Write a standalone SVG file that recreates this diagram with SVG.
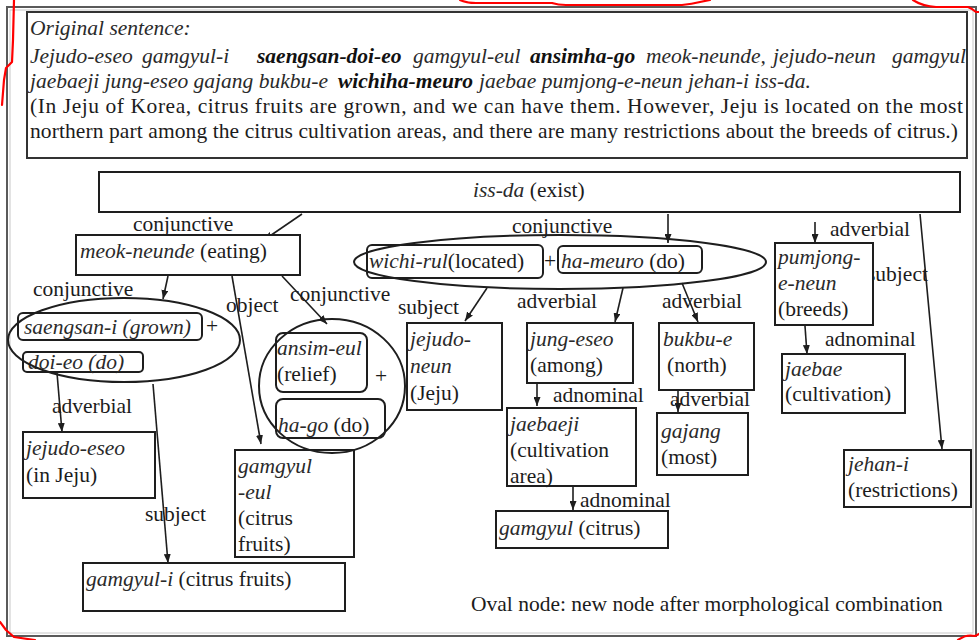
<svg xmlns="http://www.w3.org/2000/svg" width="979" height="640" viewBox="0 0 979 640">
  <style>
    text { font-family: "Liberation Serif", "Times New Roman", serif; font-size: 21.5px; fill: #1c1c1c; }
    .i { font-style: italic; fill: #2a2a2a; }
    .b { font-weight: bold; font-style: italic; fill: #111; }
    .box { fill: #fff; stroke: #1e1e1e; stroke-width: 2; }
    .rbox { fill: none; stroke: #1e1e1e; stroke-width: 2; }
    .oval { fill: none; stroke: #1e1e1e; stroke-width: 2; }
    .edge { stroke: #1e1e1e; stroke-width: 1.6; fill: none; marker-end: url(#arrow); }
    .mark { fill: none; stroke: #ff0000; stroke-width: 2.2; stroke-linejoin: round; stroke-linecap: round; }
  </style>
  <defs>
    <marker id="arrow" viewBox="0 0 9 7" refX="9" refY="3.5" markerWidth="9" markerHeight="7" markerUnits="userSpaceOnUse" orient="auto">
      <path d="M0,0 L9,3.5 L0,7 z" fill="#1e1e1e"/>
    </marker>
  </defs>

  <rect width="979" height="640" fill="#fff"/>

  <!-- outer frame (double line) -->
  <rect x="7" y="7" width="969" height="629" fill="none" stroke="#5a5a5a" stroke-width="2"/>
  <rect x="10" y="10" width="963" height="623" fill="none" stroke="#c8c8c8" stroke-width="1"/>

  <!-- sentence panel -->
  <g id="sentence">
    <rect x="27" y="12" width="940" height="146" fill="#fff" stroke="#333" stroke-width="2"/>
    <text x="30" y="35" class="i">Original sentence:</text>
    <text y="63"><tspan x="30" class="i">Jejudo-eseo</tspan><tspan x="142" class="i">gamgyul-i</tspan><tspan x="257" class="b">saengsan-doi-eo</tspan><tspan x="413" class="i">gamgyul-eul</tspan><tspan x="530" class="b">ansimha-go</tspan><tspan x="646" class="i">meok-neunde,</tspan><tspan x="773" class="i">jejudo-neun</tspan><tspan x="892" class="i">gamgyul</tspan></text>
    <text y="88"><tspan x="30" class="i">jaebaeji jung-eseo gajang bukbu-e</tspan><tspan x="338" class="b">wichiha-meuro</tspan><tspan x="479" class="i">jaebae pumjong-e-neun jehan-i iss-da.</tspan></text>
    <text x="30" y="113" textLength="933" lengthAdjust="spacing">(In Jeju of Korea, citrus fruits are grown, and we can have them. However, Jeju is located on the most</text>
    <text x="30" y="138" textLength="928" lengthAdjust="spacing">northern part among the citrus cultivation areas, and there are many restrictions about the breeds of citrus.)</text>
  </g>

  <!-- connectors and their labels -->
  <g id="connectors">
    <line class="edge" x1="302" y1="214" x2="264" y2="240"/>
    <line class="edge" x1="168" y1="276" x2="163" y2="299"/>
    <line class="edge" x1="57" y1="373" x2="62" y2="432"/>
    <line class="edge" x1="153" y1="384" x2="168" y2="563"/>
    <line class="edge" x1="232" y1="276" x2="261" y2="444"/>
    <line class="edge" x1="282" y1="276" x2="327" y2="324"/>
    <line class="edge" x1="668" y1="214" x2="668" y2="243"/>
    <line class="edge" x1="487" y1="288" x2="465" y2="321"/>
    <line class="edge" x1="623" y1="288" x2="615" y2="322"/>
    <line class="edge" x1="682" y1="283" x2="698" y2="322"/>
    <line class="edge" x1="537" y1="384" x2="537" y2="406"/>
    <line class="edge" x1="573" y1="487" x2="573" y2="510"/>
    <line class="edge" x1="678" y1="391" x2="678" y2="412"/>
    <line class="edge" x1="815" y1="222" x2="815" y2="243"/>
    <line class="edge" x1="805" y1="326" x2="807" y2="354"/>
    <line class="edge" x1="920" y1="214" x2="942" y2="449"/>

    <text x="133" y="231">conjunctive</text>
    <text x="33" y="296">conjunctive</text>
    <text x="52" y="413">adverbial</text>
    <text x="145" y="521">subject</text>
    <text x="226" y="312">object</text>
    <text x="290" y="301">conjunctive</text>
    <text x="512" y="233">conjunctive</text>
    <text x="398" y="314">subject</text>
    <text x="517" y="308">adverbial</text>
    <text x="662" y="308">adverbial</text>
    <text x="553" y="402">adnominal</text>
    <text x="580" y="507">adnominal</text>
    <text x="670" y="406">adverbial</text>
    <text x="830" y="236">adverbial</text>
    <text x="825" y="346">adnominal</text>
    <text x="867" y="281">subject</text>
  </g>

  <!-- nodes -->
  <g id="n-issda">
    <rect class="box" x="99" y="172" width="861" height="40"/>
    <text x="473" y="197"><tspan class="i">iss-da</tspan> (exist)</text>
  </g>

  <g id="n-meokneunde">
    <rect class="box" x="76" y="235" width="224" height="40"/>
    <text x="80" y="258"><tspan class="i">meok-neunde</tspan> (eating)</text>
  </g>

  <g id="n-saengsan-doieo">
    <rect class="rbox" x="18" y="313" width="184" height="27" rx="5"/>
    <text x="24" y="334" class="i">saengsan-i (grown)</text>
    <text x="206" y="333">+</text>
    <rect class="rbox" x="23" y="352" width="120" height="20" rx="4"/>
    <text x="28" y="369" class="i">doi-eo (do)</text>
    <ellipse class="oval" cx="124" cy="340" rx="116" ry="42"/>
  </g>

  <g id="n-jejudoeseo">
    <rect class="box" x="23" y="432" width="132" height="66"/>
    <text x="26" y="455" class="i">jejudo-eseo</text>
    <text x="26" y="482">(in Jeju)</text>
  </g>

  <g id="n-gamgyuli">
    <rect class="box" x="83" y="563" width="262" height="48"/>
    <text x="86" y="586"><tspan class="i">gamgyul-i</tspan> (citrus fruits)</text>
  </g>

  <g id="n-gamgyuleul">
    <rect class="box" x="235" y="450" width="119" height="107"/>
    <text x="238" y="473" class="i">gamgyul</text>
    <text x="238" y="499" class="i">-eul</text>
    <text x="238" y="525">(citrus</text>
    <text x="238" y="551">fruits)</text>
  </g>

  <g id="n-ansim-hago">
    <rect class="rbox" x="276" y="333" width="91" height="59" rx="7"/>
    <text x="277" y="355" class="i">ansim-eul</text>
    <text x="277" y="381">(relief)</text>
    <text x="375" y="383">+</text>
    <rect class="rbox" x="276" y="399" width="109" height="39" rx="7"/>
    <text x="278" y="432"><tspan class="i">ha-go</tspan> (do)</text>
    <ellipse class="oval" cx="332" cy="386" rx="73" ry="67"/>
  </g>

  <g id="n-wichi-hameuro">
    <rect class="rbox" x="367" y="245" width="176" height="33" rx="5"/>
    <text x="369" y="268"><tspan class="i">wichi-rul</tspan>(located)</text>
    <text x="544" y="268">+</text>
    <rect class="rbox" x="558" y="246" width="144" height="27" rx="5"/>
    <text x="561" y="268"><tspan class="i">ha-meuro</tspan> (do)</text>
    <ellipse class="oval" cx="560" cy="262" rx="206" ry="27"/>
  </g>

  <g id="n-jejudoneun">
    <rect class="box" x="407" y="323" width="95" height="87"/>
    <text x="410" y="346" class="i">jejudo-</text>
    <text x="410" y="373" class="i">neun</text>
    <text x="410" y="400">(Jeju)</text>
  </g>

  <g id="n-jungeseo">
    <rect class="box" x="527" y="323" width="106" height="60"/>
    <text x="530" y="346" class="i">jung-eseo</text>
    <text x="530" y="372">(among)</text>
  </g>

  <g id="n-jaebaeji">
    <rect class="box" x="507" y="408" width="129" height="78"/>
    <text x="510" y="431" class="i">jaebaeji</text>
    <text x="510" y="457">(cultivation</text>
    <text x="510" y="483">area)</text>
  </g>

  <g id="n-gamgyul">
    <rect class="box" x="496" y="511" width="172" height="37"/>
    <text x="499" y="535"><tspan class="i">gamgyul</tspan> (citrus)</text>
  </g>

  <g id="n-bukbue">
    <rect class="box" x="659" y="323" width="95" height="67"/>
    <text x="663" y="346" class="i">bukbu-e</text>
    <text x="667" y="372">(north)</text>
  </g>

  <g id="n-gajang">
    <rect class="box" x="657" y="413" width="91" height="62"/>
    <text x="661" y="438" class="i">gajang</text>
    <text x="661" y="464">(most)</text>
  </g>

  <g id="n-pumjong">
    <rect class="box" x="775" y="243" width="98" height="82"/>
    <text x="778" y="264" class="i">pumjong-</text>
    <text x="778" y="290" class="i">e-neun</text>
    <text x="778" y="316">(breeds)</text>
  </g>

  <g id="n-jaebae">
    <rect class="box" x="782" y="354" width="123" height="59"/>
    <text x="785" y="376" class="i">jaebae</text>
    <text x="785" y="401">(cultivation)</text>
  </g>

  <g id="n-jehani">
    <rect class="box" x="844" y="450" width="127" height="57"/>
    <text x="848" y="471" class="i">jehan-i</text>
    <text x="848" y="497">(restrictions)</text>
  </g>

  <text id="legend" x="471" y="611">Oval node: new node after morphological combination</text>

  <!-- red pen strokes along the edges -->
  <path class="mark" d="M14,0 L13,40 L12,62 L6,68 L4,80 L2,105"/>
  <path class="mark" d="M0,622 L6,630 L14,637 L35,640"/>
  <path class="mark" d="M460,0 Q466,3 476,3 L552,3 Q558,5 566,5 L682,5 Q692,4 700,2 L710,0"/>
  <path class="mark" d="M913,0 Q922,6 936,7 L968,7 Q973,9 976,12 L979,12"/>
  <path class="mark" d="M958,640 Q966,634 975,636 L979,634"/>
</svg>
